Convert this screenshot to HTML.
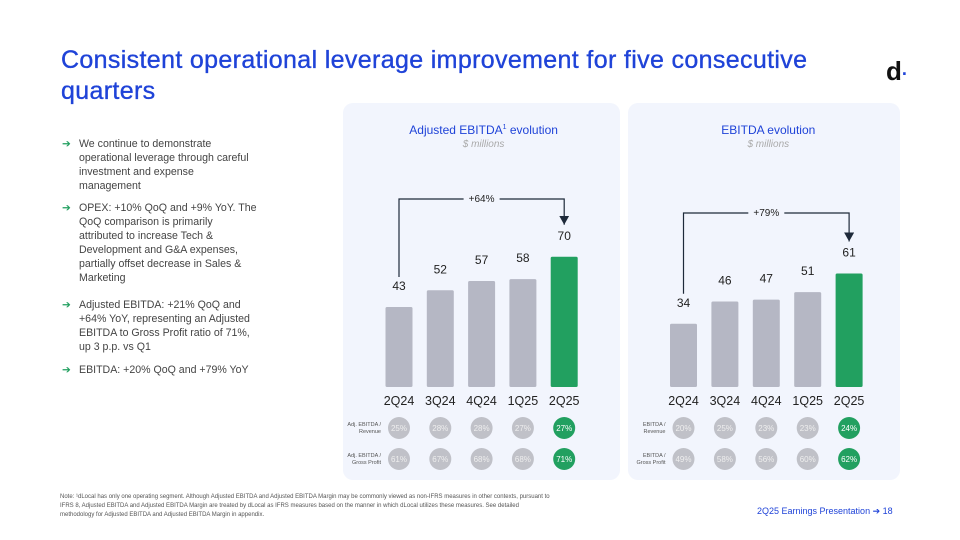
<!DOCTYPE html>
<html><head><meta charset="utf-8">
<style>
body{margin:0;width:960px;height:540px;background:#fff;font-family:"Liberation Sans",sans-serif;overflow:hidden;position:relative}
.t{position:absolute;white-space:nowrap}
#title{position:absolute;left:61px;top:45px;font-size:25px;letter-spacing:0.35px;line-height:31px;color:#1f43d8;width:800px;-webkit-text-stroke:0.35px #1f43d8}
.bul{position:absolute;left:62px;font-size:10.6px;line-height:14px;color:#444;width:196px}
.bul span.ar{position:absolute;left:0;color:#22a060}
.bul div{margin-left:17px}
.panel{position:absolute;top:103px;height:377px;background:#f2f5fd;border-radius:10px}
</style></head><body>
<div id="title">Consistent operational leverage improvement for five consecutive quarters</div>
<div class="t" style="left:886px;top:56px;font-size:26px;font-weight:bold;color:#111">d<span style="color:#1f43d8;font-size:18px">·</span></div>

<div class="bul" style="top:137px"><span class="ar">➔</span><div>We continue to demonstrate operational leverage through careful investment and expense management</div></div>
<div class="bul" style="top:201px"><span class="ar">➔</span><div>OPEX: +10% QoQ and +9% YoY. The QoQ comparison is primarily attributed to increase Tech &amp; Development and G&amp;A expenses, partially offset decrease in Sales &amp; Marketing</div></div>
<div class="bul" style="top:298px"><span class="ar">➔</span><div>Adjusted EBITDA: +21% QoQ and +64% YoY, representing an Adjusted EBITDA to Gross Profit ratio of 71%, up 3 p.p. vs Q1</div></div>
<div class="bul" style="top:363px"><span class="ar">➔</span><div>EBITDA: +20% QoQ and +79% YoY</div></div>

<div class="panel" style="left:343px;width:277px"></div>
<div class="panel" style="left:628px;width:272px"></div>

<svg id="chart" width="960" height="540" style="position:absolute;left:0;top:0">
<defs><marker id="arr" markerWidth="10" markerHeight="10" refX="5" refY="9" orient="0" markerUnits="userSpaceOnUse"><path d="M0,0 L10,0 L5,9 Z" fill="#1e2a3a"/></marker></defs>
</svg>

<div class="t" style="left:60px;top:493px;font-size:6px;line-height:9px;color:#555;white-space:normal;width:490px">Note: ¹dLocal has only one operating segment. Although Adjusted EBITDA and Adjusted EBITDA Margin may be commonly viewed as non-IFRS measures in other contexts, pursuant to IFRS 8, Adjusted EBITDA and Adjusted EBITDA Margin are treated by dLocal as IFRS measures based on the manner in which dLocal utilizes these measures. See detailed methodology for Adjusted EBITDA and Adjusted EBITDA Margin in appendix.</div>
<div class="t" style="left:757px;top:506px;font-size:9px;color:#1f43d8">2Q25 Earnings Presentation ➔ 18</div>

<script>
const categories=["2Q24","3Q24","4Q24","1Q25","2Q25"];
const adjEbitda=[43,52,57,58,70];
const ebitda=[34,46,47,51,61];
const adjRevMargin=["25%","28%","28%","27%","27%"];
const adjGpMargin=["61%","67%","68%","68%","71%"];
const ebitdaRevMargin=["20%","25%","23%","23%","24%"];
const ebitdaGpMargin=["49%","58%","56%","60%","62%"];
const adjGrowth="+64%";
const ebitdaGrowth="+79%";

const svg=document.getElementById('chart');
const NS="http://www.w3.org/2000/svg";
function mk(tag,attrs,txt){const e=document.createElementNS(NS,tag);for(const k in attrs)e.setAttribute(k,attrs[k]);if(txt!==undefined)e.textContent=txt;svg.appendChild(e);return e;}
const BASE=387, SCALE=1.86;
function yScale(v){return BASE-v*SCALE;}

function panel(cx0,step,title,sup,vals,growth,r1lab,r1,r2lab,r2,bracketY,prefix){
  const midX=cx0+step*2;
  let t=mk('text',{x:midX+2,y:134,'text-anchor':'middle','font-size':'12','fill':'#1f43d8','font-family':'Liberation Sans'},title);
  
  
  if(sup){const ts=document.createElementNS(NS,'tspan');ts.setAttribute('font-size','7');ts.setAttribute('dy','-5');ts.textContent=sup;t.appendChild(ts);const ts2=document.createElementNS(NS,'tspan');ts2.setAttribute('dy','5');ts2.textContent=' evolution';t.appendChild(ts2);}
  let s=mk('text',{x:midX+2,y:147,'text-anchor':'middle','font-size':'10','fill':'#aaa','font-style':'italic'},'$ millions');
  
  
  vals.forEach((v,i)=>{
    const cx=cx0+step*i,last=i===vals.length-1;
    let r=mk('rect',{x:cx-13.5,y:yScale(v),width:27,height:v*SCALE,fill:last?'#22a060':'#b5b7c4',rx:1.5});
    
    
    let l=mk('text',{x:cx,y:yScale(v)-17,'text-anchor':'middle','font-size':'12','fill':'#222'},String(v));
    
    
    let c=mk('text',{x:cx,y:405,'text-anchor':'middle','font-size':'12.5','fill':'#222'},categories[i]);
    
    
    [[r1,428],[r2,459]].forEach(([arr,cy])=>{
      let ci=mk('circle',{cx:cx,cy:cy,r:11,fill:last?'#22a060':'#c0c1c8'});
      
      
      let ct=mk('text',{x:cx,y:cy+3,'text-anchor':'middle','font-size':'8','fill':last?'#fff':'#eee'},arr[i]);
      
      
    });
  });
  [[r1lab,428],[r2lab,459]].forEach(([lab,cy])=>{
    lab.forEach((ln,j)=>{
      let e=mk('text',{x:cx0-18,y:cy-2+j*7,'text-anchor':'end','font-size':'5.5','fill':'#555'},ln);
      
      
    });
  });
  const x1=cx0, x2=cx0+step*4, yTop=bracketY;
  const yStart=yScale(vals[0])-30, yEnd=yScale(vals[4])-32;
  let p=mk('path',{d:`M${x1},${yStart} V${yTop} H${midX-18} M${midX+18},${yTop} H${x2} V${yEnd}`,stroke:'#1e2a3a','stroke-width':1.2,fill:'none','marker-end':'url(#arr)'});
  
  
  let g=mk('text',{x:midX,y:yTop+3,'text-anchor':'middle','font-size':'10','fill':'#222'},growth);
  
  
}
panel(399,41.3,'Adjusted EBITDA','1',adjEbitda,adjGrowth,['Adj. EBITDA /','Revenue'],adjRevMargin,['Adj. EBITDA /','Gross Profit'],adjGpMargin,199,'adj-ebitda');
panel(683.5,41.4,'EBITDA evolution',null,ebitda,ebitdaGrowth,['EBITDA /','Revenue'],ebitdaRevMargin,['EBITDA /','Gross Profit'],ebitdaGpMargin,213,'ebitda');
</script>
</body></html>
